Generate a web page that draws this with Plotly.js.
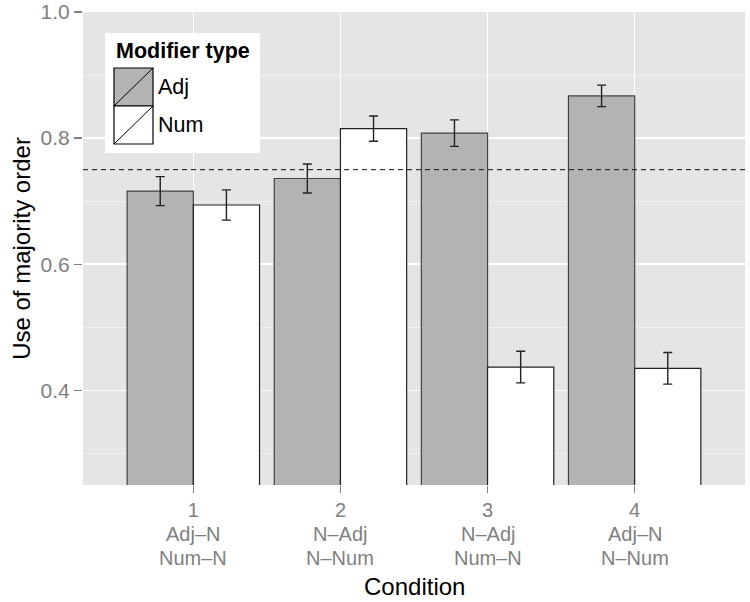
<!DOCTYPE html>
<html>
<head>
<meta charset="utf-8">
<script src="https://cdn.plot.ly/plotly-3.0.1.min.js"></script>
<style>
html,body{margin:0;padding:0;background:#fff;}
#chart{width:750px;height:602px;}
</style>
</head>
<body>
<div id="chart"></div>
<script>
// ---- data ----
const conditions = [1, 2, 3, 4];
const conditionNumbers = ["1", "2", "3", "4"];
const adjOrderLabels = ["Adj–N", "N–Adj", "N–Adj", "Adj–N"];
const numOrderLabels = ["Num–N", "N–Num", "Num–N", "N–Num"];
const seriesNames = ["Adj", "Num"];
const adjValues = [0.716, 0.736, 0.808, 0.867];
const adjErrors = [0.023, 0.023, 0.021, 0.017];
const numValues = [0.694, 0.815, 0.437, 0.435];
const numErrors = [0.024, 0.020, 0.025, 0.025];
const yTickVals = [0.4, 0.6, 0.8, 1.0];
const yTickText = ["0.4", "0.6", "0.8", "1.0"];
const yMinorVals = [0.3, 0.5, 0.7, 0.9];
const referenceLevel = 0.75;
const legendTitle = "Modifier type";
const xTitle = "Condition";
const yTitle = "Use of majority order";

const FONT = '"Liberation Sans", Arial, Helvetica, sans-serif';
const TICKGREY = '#7f7f7f';
const adjColor = '#b3b3b3';
const numColor = '#ffffff';

function barTrace(name, vals, errs, fill, edge) {
  return {
    type: 'bar', name: name, x: conditions, y: vals,
    marker: {color: fill, line: {color: edge, width: 1.2}},
    error_y: {type: 'data', array: errs, visible: true, color: '#222222', thickness: 1.4, width: 4.5},
    showlegend: false, hoverinfo: 'skip'
  };
}

const traces = [
  barTrace(seriesNames[0], adjValues, adjErrors, adjColor, '#444444'),
  barTrace(seriesNames[1], numValues, numErrors, numColor, '#222222')
];

// panel geometry (px) for legend / label placement in paper coords
const W = 750, H = 602, mL = 83, mR = 5, mT = 12, mB = 117;
const pw = W - mL - mR, ph = H - mT - mB;
const px = v => (v - mL) / pw;
const py = v => (H - mB - v) / ph;

const legendBox = {x0: 105, x1: 260, y0: 33, y1: 153};
const keyX0 = 114, keyX1 = 153;
const keyRows = [[68, 106], [106, 144]];
const keyFills = [adjColor, numColor];

const shapes = [
  {type: 'line', xref: 'paper', yref: 'y', x0: 0, x1: 1, y0: referenceLevel, y1: referenceLevel,
   line: {color: '#111111', width: 1, dash: '5px,4px'}, layer: 'above'},
  {type: 'rect', xref: 'paper', yref: 'paper', x0: px(legendBox.x0), x1: px(legendBox.x1),
   y0: py(legendBox.y1), y1: py(legendBox.y0), fillcolor: '#ffffff', line: {width: 0}, layer: 'above'}
];
const annotations = [
  {xref: 'paper', yref: 'paper', x: px(114), y: py(51), xanchor: 'left', yanchor: 'middle',
   text: '<b>' + legendTitle + '</b>', showarrow: false, font: {family: FONT, size: 21.5, color: '#000'}}
];
keyRows.forEach((r, i) => {
  shapes.push({type: 'rect', xref: 'paper', yref: 'paper', x0: px(keyX0), x1: px(keyX1),
    y0: py(r[1]), y1: py(r[0]), fillcolor: keyFills[i], line: {color: '#000', width: 1.2}, layer: 'above'});
  shapes.push({type: 'line', xref: 'paper', yref: 'paper', x0: px(keyX0), x1: px(keyX1),
    y0: py(r[1]), y1: py(r[0]), line: {color: '#000', width: 1}, layer: 'above'});
  annotations.push({xref: 'paper', yref: 'paper', x: px(156), y: py((r[0] + r[1]) / 2), xanchor: 'left', yanchor: 'middle',
    text: seriesNames[i], showarrow: false, font: {family: FONT, size: 21.5, color: '#000'}});
});
// second and third lines of the category labels
conditions.forEach((c, i) => {
  annotations.push({xref: 'x', yref: 'paper', x: c, y: py(534), xanchor: 'center', yanchor: 'middle',
    text: adjOrderLabels[i], showarrow: false, font: {family: FONT, size: 20, color: TICKGREY}});
  annotations.push({xref: 'x', yref: 'paper', x: c, y: py(558), xanchor: 'center', yanchor: 'middle',
    text: numOrderLabels[i], showarrow: false, font: {family: FONT, size: 20, color: TICKGREY}});
});
// x axis title
annotations.push({xref: 'paper', yref: 'paper', x: 0.5, y: py(586), xanchor: 'center', yanchor: 'middle',
  text: xTitle, showarrow: false, font: {family: FONT, size: 24, color: '#000'}});

const layout = {
  width: W, height: H,
  margin: {l: mL, r: mR, t: mT, b: mB, pad: 0},
  paper_bgcolor: '#ffffff', plot_bgcolor: '#e5e5e5',
  font: {family: FONT, color: TICKGREY},
  barmode: 'group', bargap: 0.1, bargroupgap: 0,
  xaxis: {
    range: [0.25, 4.75], tickvals: conditions, ticktext: conditionNumbers,
    showgrid: true, gridcolor: '#ffffff', gridwidth: 1.6, zeroline: false,
    ticks: 'outside', ticklen: 7, tickcolor: TICKGREY, tickwidth: 1.3,
    ticklabelstandoff: 0,
    tickfont: {family: FONT, size: 20, color: TICKGREY}, showline: false,
    automargin: false
  },
  yaxis: {
    range: [0.25, 1.0], tickvals: yTickVals, ticktext: yTickText,
    showgrid: true, gridcolor: '#ffffff', gridwidth: 1.6, zeroline: false,
    ticks: 'outside', ticklen: 8, tickcolor: TICKGREY, tickwidth: 1.3,
    tickfont: {family: FONT, size: 21, color: TICKGREY}, showline: false,
    minor: {tickvals: yMinorVals, showgrid: true, gridcolor: '#f2f2f2', gridwidth: 1, ticks: ''},
    title: {text: yTitle, font: {family: FONT, size: 24, color: '#000'}, standoff: 3},
    automargin: false
  },
  shapes: shapes,
  annotations: annotations
};

Plotly.newPlot('chart', traces, layout, {displayModeBar: false, staticPlot: true});
</script>
</body>
</html>
